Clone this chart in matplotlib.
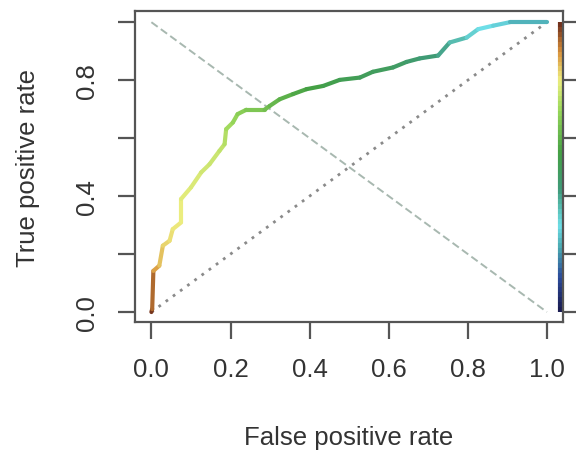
import numpy as np
import matplotlib
matplotlib.use("Agg")
import matplotlib.pyplot as plt
from matplotlib.collections import LineCollection
from matplotlib.colors import LinearSegmentedColormap

# ROC curve (false positive rate, true positive rate)
fpr = [0.0, 0.002, 0.005, 0.02, 0.029, 0.046, 0.054, 0.075, 0.075, 0.1,
       0.126, 0.147, 0.172, 0.185, 0.189, 0.206, 0.218, 0.24, 0.286, 0.299,
       0.324, 0.358, 0.392, 0.434, 0.476, 0.527, 0.56, 0.611, 0.645, 0.678,
       0.725, 0.754, 0.797, 0.826, 0.864, 0.906, 1.0]
tpr = [0.0, 0.01, 0.142, 0.16, 0.229, 0.246, 0.286, 0.309, 0.39, 0.43,
       0.482, 0.51, 0.556, 0.579, 0.631, 0.654, 0.683, 0.698, 0.698, 0.711,
       0.734, 0.752, 0.769, 0.78, 0.801, 0.809, 0.829, 0.844, 0.863, 0.875,
       0.885, 0.93, 0.947, 0.976, 0.988, 1.0, 1.0]
# cutoff used for colouring each point
cutoff = [1.0, 0.97, 0.9, 0.86, 0.83, 0.82, 0.81, 0.8, 0.79, 0.78,
          0.77, 0.76, 0.75, 0.74, 0.72, 0.7, 0.68, 0.66, 0.64, 0.62,
          0.6, 0.58, 0.56, 0.54, 0.52, 0.5, 0.49, 0.48, 0.46, 0.44,
          0.42, 0.38, 0.34, 0.31, 0.29, 0.27, 0.2]

ticks = [0.0, 0.2, 0.4, 0.6, 0.8, 1.0]
xlabels = ["0.0", "0.2", "0.4", "0.6", "0.8", "1.0"]
ylabels = ["0.0", "", "0.4", "", "0.8", ""]

cmap = LinearSegmentedColormap.from_list("roc", [
    (0.0, "#1a1a4e"), (0.12, "#2b4b9b"), (0.22, "#4aa8b0"), (0.3, "#6fdfe8"),
    (0.42, "#3f9a7a"), (0.55, "#44a044"), (0.7, "#9ad85a"),
    (0.8, "#eeee80"), (0.9, "#d8903a"), (1.0, "#6a2a1a")])

plt.rcParams['font.family'] = ['Liberation Sans', 'DejaVu Sans']

fig = plt.figure(figsize=(5.76, 4.52), dpi=100)
ax = fig.add_axes([0.234, 0.285, 0.743, 0.688])
ax.set_xlim(-0.042, 1.04)
ax.set_ylim(-0.035, 1.038)

# reference diagonals
ax.plot([0, 1], [0, 1], color="#8a8a8a", lw=2, linestyle=(0, (1, 2.2)))
ax.plot([0, 1], [1, 0], color="#a8b8b0", lw=1.4, linestyle=(0, (4, 2)))

# colorized roc curve
pts = np.column_stack([fpr, tpr])
segs = np.stack([pts[:-1], pts[1:]], axis=1)
segcol = [(a + b) / 2 for a, b in zip(cutoff[:-1], cutoff[1:])]
lc = LineCollection(segs, cmap=cmap, linewidths=3, capstyle="round",
                    joinstyle="round")
lc.set_array(np.array(segcol))
lc.set_clim(0, 1)
ax.add_collection(lc)

# colour key along the right side
cb = np.linspace(0, 1, 60)
cpts = np.column_stack([np.full_like(cb, 1.033), cb])
csegs = np.stack([cpts[:-1], cpts[1:]], axis=1)
ckey = LineCollection(csegs, cmap=cmap, linewidths=3, clip_on=False)
ckey.set_array((cb[:-1] + cb[1:]) / 2)
ckey.set_clim(0, 1)
ax.add_collection(ckey)

for s in ax.spines.values():
    s.set_color("#555555")
    s.set_linewidth(1.6)

ax.set_xticks(ticks)
ax.set_xticklabels(xlabels)
ax.set_yticks(ticks)
ax.set_yticklabels(ylabels, rotation=90, va="center")
ax.tick_params(axis="both", length=12, width=1.6, color="#555555",
               labelsize=18.5, labelcolor="#333333")
ax.tick_params(axis="x", pad=13)
ax.tick_params(axis="y", pad=14)

ax2 = ax.twinx()
ax2.set_ylim(ax.get_ylim())
ax2.set_yticks(ticks)
ax2.set_yticklabels([])
ax2.tick_params(axis="y", length=12, width=1.6, color="#555555")
for s in ax2.spines.values():
    s.set_visible(False)

ax.set_xlabel("False positive rate", fontsize=18.5, color="#333333",
              labelpad=32)
ax.set_ylabel("True positive rate", fontsize=18.5, color="#333333",
              labelpad=25)

fig.savefig("out.png", dpi=100)
